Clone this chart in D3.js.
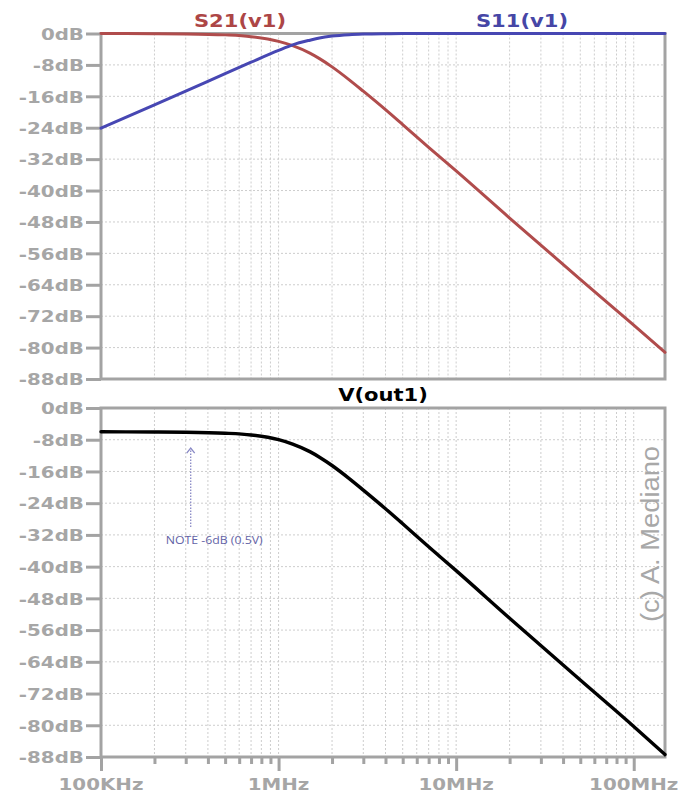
<!DOCTYPE html>
<html>
<head>
<meta charset="utf-8">
<script src="https://cdn.jsdelivr.net/npm/d3@7"></script>
<style>
  html, body { margin: 0; padding: 0; background: #fff; }
  svg { display: block; }
</style>
</head>
<body>
<svg id="chart" width="680" height="795"></svg>
<script>
// Frequency sweep points (Hz) shared by all traces
const freqs  = [1e5, 2e5, 3e5, 5e5, 7e5, 1e6, 1.2e6, 1.5e6, 1.7e6, 2e6, 2.5e6, 3e6, 4e6, 5e6, 7e6, 1e7, 2e7, 5e7, 1e8, 1.5e8];
// Transmission S21 (dB)
const s21Db  = [0, -0.05, -0.1, -0.35, -0.8, -2.0, -3.1, -5.0, -6.4, -8.5, -11.8, -14.7, -19.4, -23.2, -29.0, -35.0, -47.0, -62.6, -74.3, -81.2];
// Reflection S11 (dB)
const s11Db  = [-24.1, -18.2, -14.7, -10.2, -7.3, -4.3, -2.9, -1.7, -1.13, -0.66, -0.3, -0.15, -0.05, -0.02, 0, 0, 0, 0, 0, 0];
// Output node voltage (dB)
const voutDb = [-6.0, -6.05, -6.1, -6.35, -6.8, -8.0, -9.1, -11.0, -12.4, -14.5, -17.8, -20.7, -25.4, -29.2, -35.0, -41.0, -53.0, -68.6, -80.3, -87.4];

const dbTicks = d3.range(0, -89, -8);
const decadeTicks = [1e5, 1e6, 1e7, 1e8];
const decadeLabels = ["100KHz", "1MHz", "10MHz", "100MHz"];
const fMin = 1e5, fMax = 1.5e8;

const svg = d3.select("#chart");
const left = 101, right = 665;
const GRID = "#cdcdcd", FRAME = "#a3a3a3", LABEL = "#a6a6a6";
const STRETCH = 1.24;   // LTspice-style wide bold lettering
const boldFont = "'DejaVu Sans', Verdana, sans-serif";

const x = d3.scaleLog().domain([fMin, fMax]).range([left, right]);

// every 1..9 multiple of each decade inside the sweep
const logTicks = [];
for (let e = 5; e <= 8; e++) {
  for (let m = 1; m <= 9; m++) {
    const v = m * Math.pow(10, e);
    if (v <= fMax * 1.0001) logTicks.push(v);
  }
}

// horizontally stretched text drawn at (px, py)
function wideText(parent, px, py, str, opts) {
  const g = parent.append("g")
    .attr("transform", `translate(${px},${py}) scale(${opts.k || STRETCH},1)`);
  return g.append("text")
    .attr("text-anchor", opts.anchor || "middle")
    .attr("font-family", boldFont)
    .attr("font-weight", "bold")
    .attr("font-size", opts.size || 16)
    .attr("fill", opts.fill || LABEL)
    .text(str);
}

const panels = [
  { top: 33.5, bottom: 379,
    series: [ { values: s21Db, color: "#b04c4c" }, { values: s11Db, color: "#4747b3" } ],
    xAxis: false },
  { top: 408, bottom: 757,
    series: [ { values: voutDb, color: "#000000", width: 3.4 } ],
    xAxis: true }
];

panels.forEach(p => {
  const y = d3.scaleLinear().domain([-88, 0]).range([p.bottom, p.top]);
  p.y = y;
  const g = svg.append("g");

  // dotted grid
  g.append("g").selectAll("line").data(logTicks.filter(v => v > fMin))
    .join("line")
    .attr("x1", d => x(d)).attr("x2", d => x(d))
    .attr("y1", p.top).attr("y2", p.bottom)
    .attr("stroke", GRID).attr("stroke-width", 1).attr("stroke-dasharray", "2,2");
  g.append("g").selectAll("line").data(dbTicks.filter(v => v < 0 && v > -88))
    .join("line")
    .attr("x1", left).attr("x2", right)
    .attr("y1", d => y(d)).attr("y2", d => y(d))
    .attr("stroke", GRID).attr("stroke-width", 1).attr("stroke-dasharray", "2,2");

  // frame
  g.append("rect")
    .attr("x", left).attr("y", p.top)
    .attr("width", right - left).attr("height", p.bottom - p.top)
    .attr("fill", "none").attr("stroke", FRAME).attr("stroke-width", 3);

  // left dB axis
  const ay = g.append("g").attr("transform", `translate(${left},0)`)
    .call(d3.axisLeft(y).tickValues(dbTicks).tickSize(15).tickFormat(d => d + "dB"));
  ay.select(".domain").remove();
  ay.selectAll(".tick line").attr("stroke", FRAME).attr("stroke-width", 3);
  ay.selectAll(".tick text").remove();
  ay.selectAll(".tick").each(function (d) {
    wideText(d3.select(this), -17, 5.8, d + "dB", { anchor: "end", size: 16 });
  });

  if (p.xAxis) {
    const ax = g.append("g").attr("transform", `translate(0,${p.bottom})`)
      .call(d3.axisBottom(x).tickValues(logTicks).tickSize(6).tickFormat(""));
    ax.select(".domain").remove();
    ax.selectAll(".tick line")
      .attr("stroke", FRAME).attr("stroke-width", 3)
      .attr("y2", d => decadeTicks.includes(d) ? 14 : 7);
    decadeTicks.forEach((d, i) => {
      wideText(g, x(d), p.bottom + 33, decadeLabels[i], { size: 16 });
    });
  }

  // traces
  const line = d3.line()
    .x((d, i) => x(freqs[i]))
    .y(d => y(d))
    .curve(d3.curveMonotoneX);
  p.series.forEach(s => {
    g.append("path").datum(s.values)
      .attr("d", line)
      .attr("fill", "none")
      .attr("stroke", s.color)
      .attr("stroke-width", s.width || 3)
      .attr("stroke-linejoin", "round")
      .attr("stroke-linecap", "round");
  });
});

// trace titles
wideText(svg, 240, 27, "S21(v1)", { size: 17, fill: "#ad4646" });
wideText(svg, 522, 27, "S11(v1)", { size: 17, fill: "#4646a6" });
wideText(svg, 383, 401, "V(out1)", { size: 17, fill: "#000" });

// annotation on the output plot
const yb = panels[1].y;
const noteX = x(3.2e5);
const ann = svg.append("g").attr("stroke", "#8a8ac6").attr("stroke-width", 1.3).attr("fill", "none");
ann.append("line")
  .attr("x1", noteX).attr("x2", noteX)
  .attr("y1", yb(-30)).attr("y2", yb(-10.2))
  .attr("stroke-dasharray", "1.5,1.5");
ann.append("polyline")
  .attr("points", `${noteX - 4},${yb(-11.4)} ${noteX},${yb(-10.1)} ${noteX + 4},${yb(-11.4)}`);
svg.append("text")
  .attr("x", noteX - 25).attr("y", yb(-34.4))
  .attr("font-family", "'Open Sans', 'Noto Sans', sans-serif")
  .attr("font-size", 11)
  .attr("fill", "#6262a6")
  .attr("textLength", 97)
  .attr("lengthAdjust", "spacingAndGlyphs")
  .text("NOTE -6dB (0.5V)");

// author mark
svg.append("text")
  .attr("transform", "translate(659,534) rotate(-90)")
  .attr("text-anchor", "middle")
  .attr("font-family", "'Liberation Sans', Arial, sans-serif")
  .attr("font-size", 25)
  .attr("fill", "#a8a8a8")
  .attr("textLength", 176)
  .attr("lengthAdjust", "spacingAndGlyphs")
  .text("(c) A. Mediano");
</script>
</body>
</html>
